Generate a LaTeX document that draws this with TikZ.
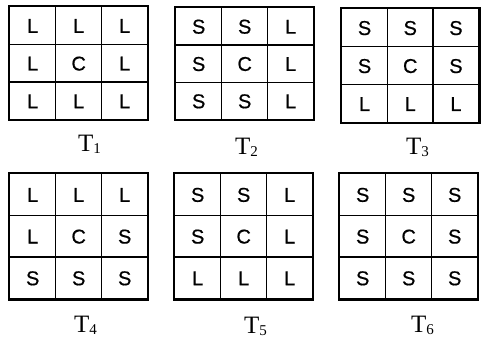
\documentclass[tikz,border=0pt]{standalone}
\usepackage{fontspec}
\setmainfont{Liberation Serif}
\newfontfamily\cellfont[FakeBold=0.6]{Liberation Sans}
\tikzset{
  cell/.style={draw=black, line width=1.4pt, inner sep=0pt, font=\cellfont\fontsize{20}{20}\selectfont, text height=14.5pt, text depth=0pt},
  outerbox/.style={draw=black, line width=2pt},
  tlabel/.style={inner sep=0pt, anchor=base west, font=\fontsize{25}{25}\selectfont},
}
\newcommand\tsub[1]{\raisebox{-2pt}{\fontsize{15}{15}\selectfont #1}}
% name, x0, y0, cell width, cell height, letters
\newcommand\tgrid[6]{%
  \foreach \c [count=\i from 0] in {#6} {
    \pgfmathtruncatemacro\col{mod(\i,3)}
    \pgfmathtruncatemacro\row{div(\i,3)}
    \node[cell, minimum width=#4pt, minimum height=#5pt, anchor=north west] (#1-\i) at ({#2+\col*#4},{#3+\row*#5}) {\c};
  }
  \draw[outerbox] (#1-0.north west) rectangle (#1-8.south east);
}
\begin{document}
\begin{tikzpicture}[x=1pt,y=-1pt]
\useasboundingbox (0,0) rectangle (481,339);
\tgrid{a}{9}{6}{46}{37.7}{L,L,L,L,C,L,L,L,L}
\tgrid{b}{175}{7}{46}{37.3}{S,S,L,S,C,L,S,S,L}
\tgrid{c}{341}{8}{45.7}{38}{S,S,S,S,C,S,L,L,L}
\tgrid{d}{9}{173}{46}{41.7}{L,L,L,L,C,S,S,S,S}
\tgrid{e}{174}{173}{46}{41.7}{S,S,L,S,C,L,L,L,L}
\tgrid{f}{339}{173}{46}{41.7}{S,S,S,S,C,S,S,S,S}
\node[tlabel] (la) at (78,151) {T\tsub{1}};
\node[tlabel] (lb) at (235,154) {T\tsub{2}};
\node[tlabel] (lc) at (406,154) {T\tsub{3}};
\node[tlabel] (ld) at (74,332) {T\tsub{4}};
\node[tlabel] (le) at (244,333) {T\tsub{5}};
\node[tlabel] (lf) at (411,332) {T\tsub{6}};
\end{tikzpicture}
\end{document}
